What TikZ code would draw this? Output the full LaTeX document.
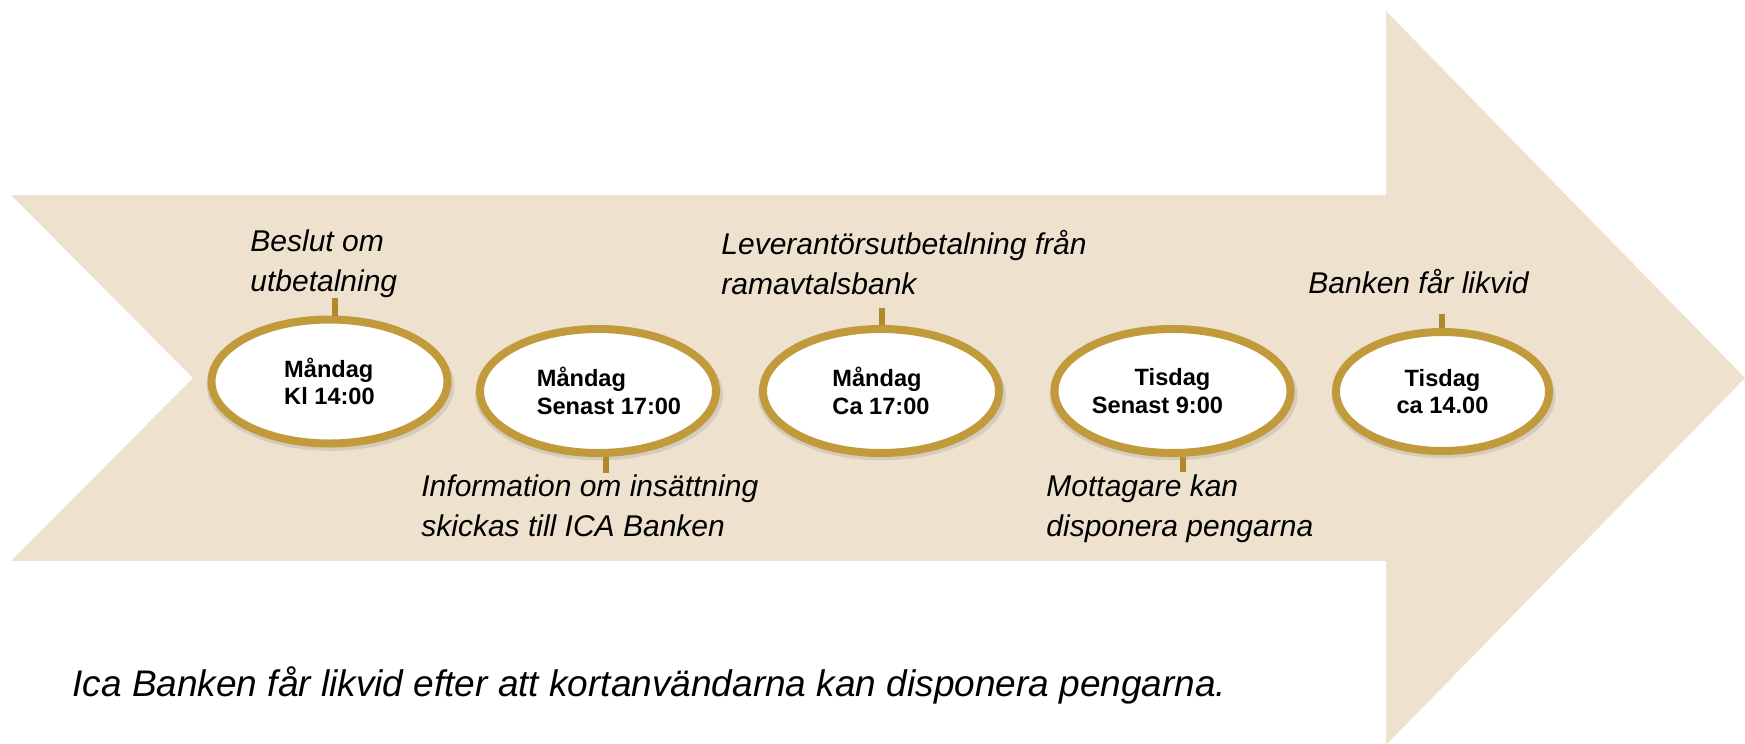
\documentclass[tikz,border=0pt]{standalone}
\usepackage{fontspec}
\setmainfont{Liberation Sans}
\usetikzlibrary{shapes.geometric,shadows}

\definecolor{sand}{RGB}{238,226,207}
\definecolor{gold}{RGB}{193,154,60}
\definecolor{darkgold}{RGB}{178,137,42}

\begin{document}
\begin{tikzpicture}[x=0.5pt, y=-0.5pt,
   day/.style={ellipse, draw=gold, line width=4pt, fill=white, inner sep=0pt,
      minimum width=118pt, minimum height=62pt, align=left,
      drop shadow={shadow scale=1.05, shadow xshift=0.5pt, shadow yshift=-2pt, opacity=0.22},
      font=\fontsize{11.8}{13.8}\selectfont\bfseries},
   tick/.style={darkgold, line width=3pt},
   note/.style={inner sep=0pt, align=left, anchor=base west,
      font=\fontsize{15}{20}\selectfont\itshape}]

   \useasboundingbox (0,0) rectangle (1745,744);

   % big arrow
   \fill[sand] (11,195) -- (1386,195) -- (1386,11) -- (1745,378) -- (1386,745)
      -- (1386,561) -- (11,561) -- (193,378) -- cycle;

   % days
   \node[day] (mon14) at (329.5,381.5) {Måndag\\Kl 14:00};
   \node[day] (mon17) at (598,391) {\hspace*{11pt}Måndag\\\hspace*{11pt}Senast 17:00};
   \node[day] (monca) at (881,391) {Måndag\\Ca 17:00};
   \node[day, align=center] (tue9) at (1172.5,391) {Tisdag\\Senast 9:00\hspace*{15pt}};
   \node[day, align=center, minimum width=106.5pt, minimum height=59.5pt] (tue14) at (1442.5,391.5) {Tisdag\\ca 14.00};

   % ticks
   \coordinate (t1) at (335,298);
   \coordinate (t2) at (606,473);
   \coordinate (t3) at (882,308);
   \coordinate (t4) at (1183,472);
   \coordinate (t5) at (1442,314);
   \draw[tick] (mon14.north -| t1) -- (t1);
   \draw[tick] (mon17.south -| t2) -- (t2);
   \draw[tick] (monca.north -| t3) -- (t3);
   \draw[tick] (tue9.south -| t4) -- (t4);
   \draw[tick] (tue14.north -| t5) -- (t5);

   % notes (base = last line)
   \node[note] (beslut) at (250,291) {Beslut om\\utbetalning};
   \node[note] (info) at (421,536) {Information om insättning\\skickas till ICA Banken};
   \node[note] (lev) at (721,294) {Leverantörsutbetalning från\\ramavtalsbank};
   \node[note] (mott) at (1046,536) {Mottagare kan\\disponera pengarna};
   \node[note] (likvid) at (1308,293) {Banken får likvid};

   \node[note, font=\fontsize{18.5}{22}\selectfont\itshape] (summary) at (72,696)
      {Ica Banken får likvid efter att kortanvändarna kan disponera pengarna.};
\end{tikzpicture}
\end{document}
